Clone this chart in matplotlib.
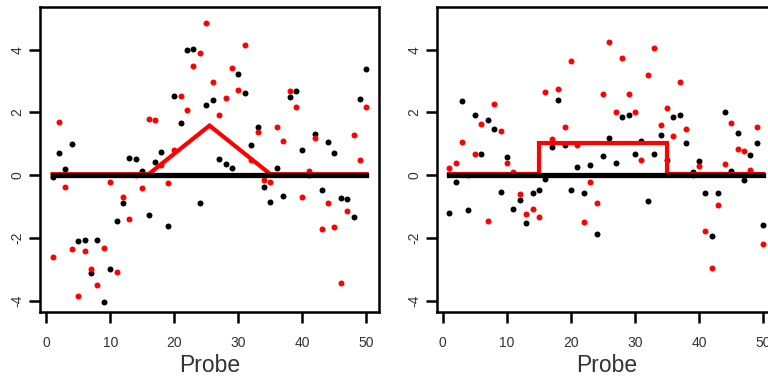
import numpy as np
import matplotlib.pyplot as plt
from matplotlib.transforms import offset_copy

plt.rcParams['font.family'] = ['Liberation Sans', 'DejaVu Sans']

probe = np.arange(1, 51)

# left panel: two replicates + true profile (triangle)
left_black = [-0.06, 0.71, 0.20, 0.98, -2.11, -2.08, -3.13, -2.05, -4.04, -2.99,
              -1.45, -0.88, 0.55, 0.52, 0.12, -1.26, 0.41, 0.75, -1.62, 2.52,
              1.67, 3.98, 4.01, -0.90, 2.23, 2.39, 0.53, 0.35, 0.24, 3.23,
              2.62, 0.97, 1.55, -0.38, -0.84, 0.24, -0.67, 2.50, 2.69, 0.81,
              0.00, 1.30, -0.48, 1.05, 0.72, -0.73, -0.76, -1.32, 2.42, 3.39]
left_red = [-2.62, 1.71, -0.38, -2.36, -3.86, -2.42, -3.00, -3.50, -2.31, -0.22,
            -3.08, -0.69, -1.39, 0.00, -0.41, 1.80, 1.75, 0.33, -0.24, 0.79,
            2.52, 2.07, 3.47, 3.90, 4.85, 2.97, 1.93, 2.46, 3.43, 2.71,
            4.16, 0.49, 1.37, -0.15, -0.21, 1.52, 1.10, 2.68, 2.17, -0.69,
            0.14, 1.18, -1.70, -0.89, -1.66, -3.45, -1.13, 1.29, 0.50, 2.17]
left_true_x = [1, 16, 25.5, 35, 50]
left_true_y = [0, 0, 1.55, 0, 0]

# right panel: two replicates + true profile (step)
right_black = [-1.20, -0.22, 2.36, -1.11, 1.93, 0.68, 1.75, 1.47, -0.55, 0.57,
               -1.07, -0.78, -1.52, -0.56, -0.48, -0.12, 0.90, 2.39, 0.95, -0.48,
               0.27, -0.57, 0.32, -1.88, 0.60, 1.19, 0.38, 1.84, 1.91, 0.67,
               1.10, -0.83, 0.69, 1.29, 0.47, 1.86, 1.91, 1.01, 0.10, 0.44,
               -0.56, -1.94, -0.58, 2.00, 0.12, 1.35, -0.16, 0.65, 1.04, -1.59]
right_red = [0.24, 0.39, 1.05, 0.00, 0.66, 1.64, -1.46, 2.27, 1.42, 0.40,
             0.10, -0.59, -1.24, -1.09, -1.33, 2.64, 1.14, 2.75, 1.55, 3.63,
             0.95, -1.50, -0.21, -0.89, 2.58, 4.24, 2.00, 3.74, 2.59, 2.01,
             0.47, 3.18, 4.04, 1.60, 2.13, 1.26, 2.96, 1.48, 0.00, 0.30,
             -1.79, -2.95, -0.94, 0.35, 1.66, 0.85, 0.76, 0.15, 1.54, -2.20]
right_true_x = [1, 15, 15, 35, 35, 50]
right_true_y = [0, 0, 1, 1, 0, 0]

fit_x = [1, 50]
fit_y = [0, 0]

fig = plt.figure(figsize=(7.68, 3.82), dpi=100)
ax1 = fig.add_axes([40/768, 70/382, 339/768, 305/382])
ax2 = fig.add_axes([436.7/768, 70/382, 339/768, 305/382])

panels = [(ax1, left_black, left_red, left_true_x, left_true_y),
          (ax2, right_black, right_red, right_true_x, right_true_y)]

for ax, blk, red, tx, ty in panels:
    ax.plot(probe, blk, 'o', color='black', ms=4.3, mec='none', zorder=2)
    ax.plot(probe, red, 'o', color='red', ms=4.3, mec='none', zorder=2)
    # red profile sits a hair above the black fit line, like in the original
    shifted = offset_copy(ax.transData, fig=fig, y=1, units='dots')
    ax.plot(tx, ty, color='red', lw=3.0, solid_joinstyle='miter', zorder=3,
            transform=shifted)
    ax.plot(fit_x, fit_y, color='black', lw=3.8, zorder=4)

    ax.set_xlim(-0.96, 51.96)
    ax.set_ylim(-4.36, 5.36)
    ax.set_xticks([0, 10, 20, 30, 40, 50])
    ax.set_yticks([-4, -2, 0, 2, 4])
    ax.set_yticklabels(['-4', '-2', '0', '2', '4'], rotation=90, va='center')
    for s in ax.spines.values():
        s.set_linewidth(1.8)
    ax.tick_params(direction='out', length=8, width=1.8, labelsize=10,
                   labelcolor='#333333')
    ax.tick_params(axis='x', pad=9)
    ax.tick_params(axis='y', pad=3)
    ax.set_xlabel('Probe', fontsize=16.5, labelpad=3, color='#333333')

fig.savefig('out.png', dpi=100)
